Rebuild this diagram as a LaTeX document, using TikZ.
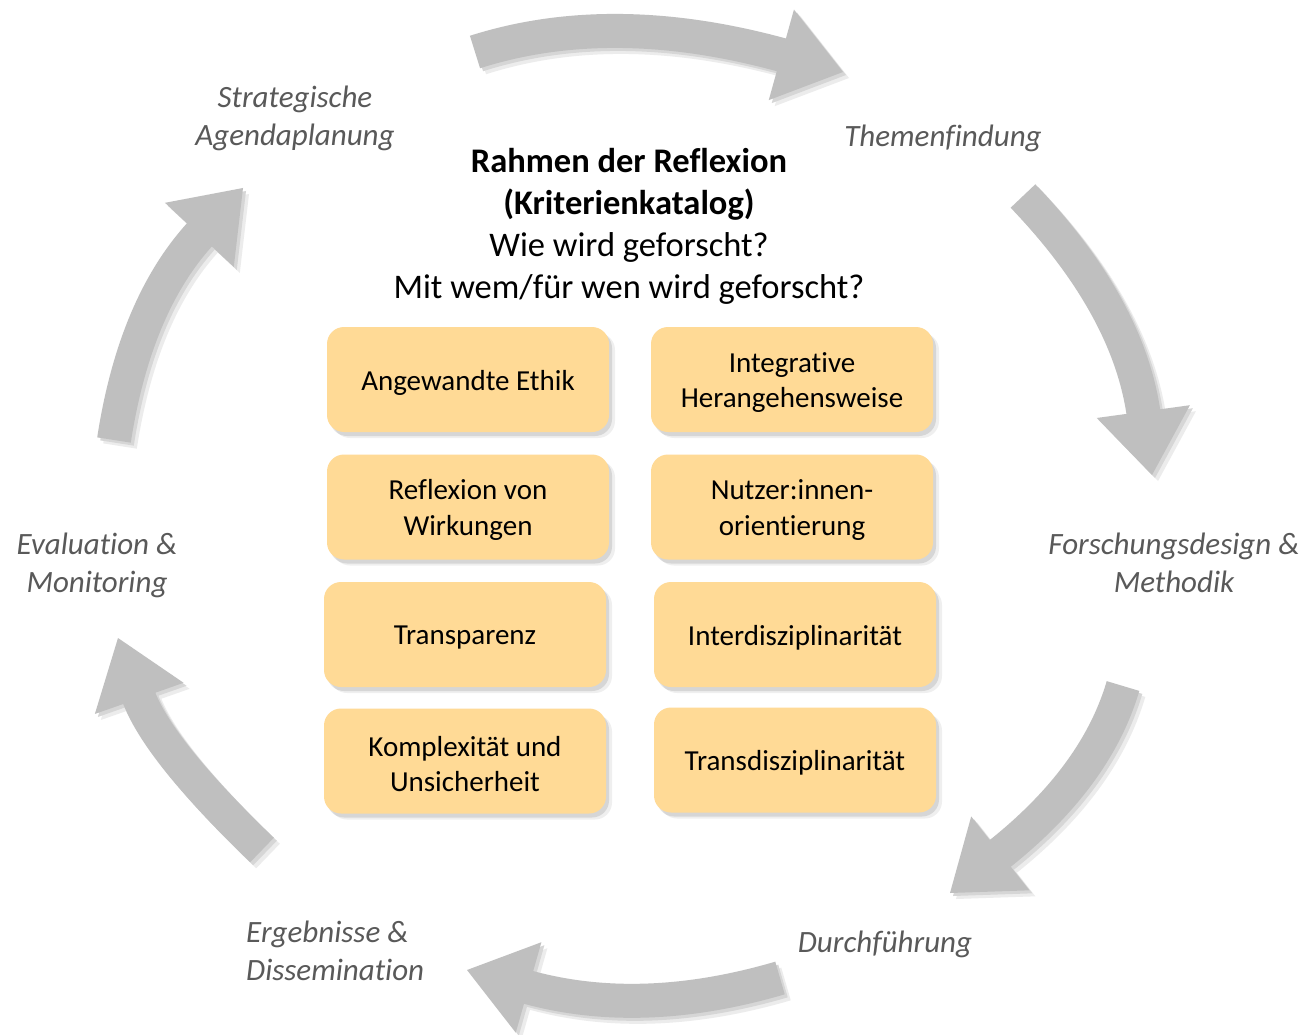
\documentclass[tikz,border=0pt]{standalone}
\usepackage{fontspec}
\setmainfont{Carlito}[Ligatures={NoCommon}]
\usetikzlibrary{calc,shadows}
\definecolor{boxfill}{HTML}{FFDA96}
\definecolor{arrowgray}{HTML}{BFBFBF}
\definecolor{labelgray}{HTML}{595959}
\definecolor{shadeA}{HTML}{D6D6D6}
\definecolor{shadeB}{HTML}{ECECEC}
\newcommand\boxfont{\fontsize{29}{35.5}\selectfont}
\newcommand\titlefont{\fontsize{34.5}{42}\selectfont}
\newcommand\labelfont{\fontsize{31}{38}\selectfont\itshape}
\newcommand\cyclearrow[4]{%
  \coordinate (#1-a) at #2;
  \coordinate (#1-c) at #3;
  \coordinate (#1-t) at #4;
  \coordinate (#1-b) at ($(#1-t)!64pt!(#1-c)$);
  \coordinate (#1-e) at ($(#1-t)!60pt!(#1-c)$);
  \coordinate (#1-l) at ($(#1-b)!47pt!90:(#1-t)$);
  \coordinate (#1-r) at ($(#1-b)!47pt!-90:(#1-t)$);
  \coordinate (#1-c1) at ($(#1-a)!0.6667!(#1-c)$);
  \coordinate (#1-c2) at ($(#1-e)!0.6667!(#1-c)$);
  \foreach \sh/\col in {6/shadeB,3/shadeA}{%
    \begin{scope}[transform canvas={shift={(\sh pt,-\sh pt)}}]
      \draw[band,\col] (#1-a) .. controls (#1-c1) and (#1-c2) .. (#1-e);
      \fill[\col] (#1-t) -- (#1-l) -- (#1-r) -- cycle;
    \end{scope}}
  \draw[band,arrowgray] (#1-a) .. controls (#1-c1) and (#1-c2) .. (#1-e);
  \fill[arrowgray] (#1-t) -- (#1-l) -- (#1-r) -- cycle;
}
\begin{document}
\begin{tikzpicture}[x=1pt,y=-1pt,
  band/.style={line width=34pt},
  critbox/.style={rounded corners=17pt, fill=boxfill, minimum width=282pt,
    minimum height=105pt, inner sep=0pt,
    drop shadow={shadow xshift=6pt,shadow yshift=-6pt,opacity=0.12},
    drop shadow={shadow xshift=3pt,shadow yshift=-4pt,opacity=0.22}},
  boxtext/.style={align=center, font=\boxfont, inner sep=0pt},
  phase/.style={align=center, font=\labelfont, text=labelgray, inner sep=0pt}]
\fill[white] (0,0) rectangle (1309,1035);
\useasboundingbox (0,0) rectangle (1309,1035);

% cycle arrows
\cyclearrow{top}{(475,52)}{(613,8)}{(843,72)}
\cyclearrow{right}{(1023,196)}{(1129,307)}{(1152,475)}
\cyclearrow{botright}{(1123,686)}{(1096,778)}{(950,893)}
\cyclearrow{bottom}{(780,978)}{(640,1019)}{(467,970)}
\cyclearrow{botleft}{(262,850)}{(157,749)}{(118,638)}
\cyclearrow{left}{(114,440)}{(135,304)}{(243,188)}

% title
\node[align=center, font=\titlefont, inner sep=0pt] (title) at (629,226)
  {\textbf{Rahmen der Reflexion}\\\textbf{(Kriterienkatalog)}\\Wie wird geforscht?\\Mit wem/für wen wird geforscht?};

% criteria boxes
\node[critbox] (a1) at (468,379.5) {};
\node[critbox] (b1) at (792,379.5) {};
\node[critbox] (a2) at (468,507) {};
\node[critbox] (b2) at (792,507) {};
\node[critbox] (a3) at (465,634.5) {};
\node[critbox] (b3) at (795,634.5) {};
\node[critbox] (a4) at (465,761) {};
\node[critbox] (b4) at (795,760) {};
\node[boxtext] (a1t) at ([yshift=-3pt]a1.center) {Angewandte Ethik};
\node[boxtext] (b1t) at ([yshift=-3pt]b1.center) {Integrative\\Herangehensweise};
\node[boxtext] (a2t) at ([yshift=-3pt]a2.center) {Reflexion von\\Wirkungen};
\node[boxtext] (b2t) at ([yshift=-3pt]b2.center) {Nutzer:innen-\\orientierung};
\node[boxtext] (a3t) at ([yshift=-3pt]a3.center) {Transparenz};
\node[boxtext] (b3t) at ([yshift=-3pt]b3.center) {Interdisziplinarität};
\node[boxtext] (a4t) at ([yshift=-3pt]a4.center) {Komplexität und\\Unsicherheit};
\node[boxtext] (b4t) at ([yshift=-3pt]b4.center) {Transdisziplinarität};

% phase labels
\node[phase] (p1) at (295,118) {Strategische\\Agendaplanung};
\node[phase] (p2) at (943,138) {Themenfindung};
\node[phase] (p3) at (1174,563) {Forschungsdesign \&\\Methodik};
\node[phase] (p4) at (885,944) {Durchführung};
\node[phase, align=left, anchor=west] (p5) at (246,951) {Ergebnisse \&\\Dissemination};
\node[phase] (p6) at (97,565) {Evaluation \&\\Monitoring};
\end{tikzpicture}
\end{document}
